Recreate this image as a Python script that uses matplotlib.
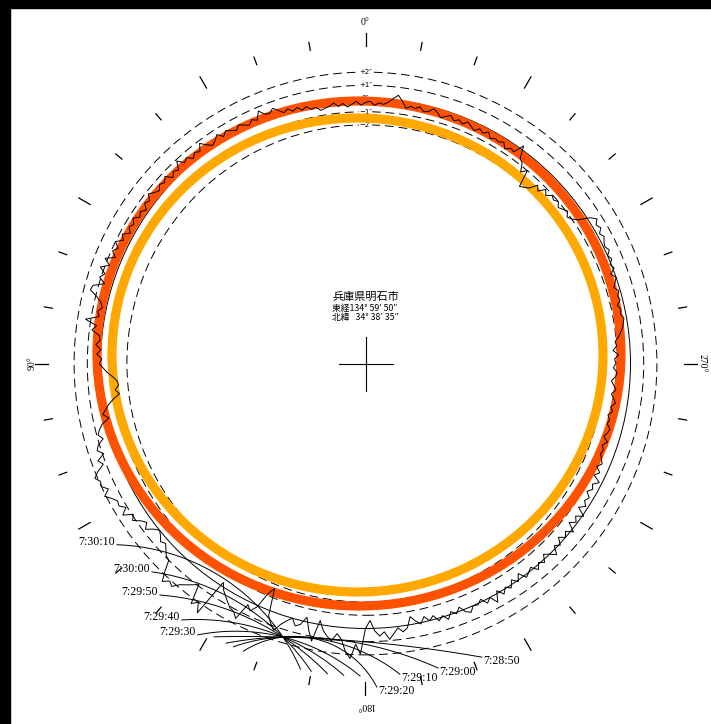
import numpy as np
import matplotlib
matplotlib.use("Agg")
import matplotlib.pyplot as plt
from matplotlib.patches import Ellipse, Circle, Rectangle

plt.rcParams['font.family'] = ['Liberation Serif', 'Noto Sans CJK JP', 'DejaVu Sans']

# ---------------- data ----------------
# lunar limb profile: height above the mean limb (arcsec) for position angles 0..359 deg
profile_pa = np.arange(0, 360, 1)
profile_height = [
    -0.3, -0.5, -0.2, -0.4, -0.6, -0.3, -0.5, -0.2, -0.4, -0.5,
    -0.6, -0.3, -0.4, -0.1, -0.3, 0.0, -0.2, 0.1, -0.1, 0.2,
    0.5, 0.2, 0.3, 0.7, 0.1, 0.3, 0.0, 0.2, 0.4, 0.1,
    0.3, 0.5, 0.2, 0.6, 0.3, 0.1, 0.4, 0.8, 0.3, 0.5,
    0.2, 0.6, 0.4, 0.9, 0.3, 0.5, 0.2, 0.7, 0.4, 0.6,
    0.3, 0.5, 0.8, 0.4, 0.6, 0.2, 0.5, 0.3, 0.7, 0.4,
    0.6, 0.3, 0.8, 0.5, 1.0, 0.6, 0.9, 0.5, 1.2, 0.7,
    1.3, 0.8, 1.1, 0.6, 1.4, 1.5, 0.9, 0.5, 0.3, 0.6,
    0.4, 1.4, 0.5, 0.8, 0.2, 0.1, 0.4, 0.0, 0.3, -0.1,
    0.1, -0.2, -0.5, -0.9, -1.2, -1.3, -1.0, -1.3, -0.8, -0.4,
    -0.1, 0.2, -0.2, 0.4, 0.7, 0.9, 0.6, 1.1, 1.3, 0.9,
    1.5, 1.2, 1.8, 2.2, 1.9, 2.0, 1.6, 2.1, 1.7, 1.4,
    1.5, 1.1, 1.6, 0.9, 1.2, 0.7, 0.4, 0.8, 0.3, 0.0,
    0.2, 0.5, 0.3, 0.6, 0.9, 1.0, 1.8, 2.5, 2.1, 2.3,
    1.8, 1.5, 1.2, 0.9, 2.4, 2.0, 2.7, -0.3, 0.2, 0.5,
    0.8, 1.1, 1.2, 1.6, 0.25, 0.6, 0.1, -1.1, -1.7, 0.4,
    0.9, 1.3, 0.7, 0.3, 0.0, 0.5, 0.3, -0.35, 0.6, 1.35,
    -0.3, 0.4, 0.8, 1.1, 0.5, 0.9, 1.8, 2.3, 1.2, 1.95,
    0.0, -0.6, 0.2, 0.6, 0.3, 0.9, 0.5, 0.1, 0.45, 0.2,
    -0.6, -0.2, 0.1, -0.4, 0.0, -0.3, 0.2, -0.1, 0.3, -0.2,
    0.1, -0.3, 0.2, 0.4, 0.0, 0.1, -0.2, 0.3, 0.0, 0.6,
    -0.2, 0.3, -0.1, 0.2, -0.3, 0.1, -0.4, 0.2, 0.0, -0.2,
    0.3, -0.1, 0.2, -0.3, 0.0, 0.4, -0.2, 0.1, -0.4, 0.0,
    -0.3, 0.2, -0.5, -0.1, -0.4, 0.1, -0.6, -0.2, -0.5, -0.3,
    -0.7, -0.4, -0.6, -0.2, -0.8, -0.5, -0.9, -0.6, -0.8, -1.0,
    -0.9, -1.1, -0.8, -1.2, -1.0, -0.9, -1.2, -1.1, -1.3, -1.0,
    -1.2, -0.9, -1.1, -1.3, -1.0, -1.2, -1.4, -1.1, -1.0, -1.3,
    -1.1, -1.2, -0.9, -1.3, -1.0, -1.1, -0.8, -0.6, -0.4, -0.3,
    -0.2, -0.4, -0.3, -0.5, -0.2, -0.3, -0.1, -0.4, -0.2, 0.0,
    -0.3, 0.1, -0.1, 0.2, 0.0, 0.3, 0.1, 0.2, 0.4, 0.2,
    0.5, 0.3, 0.6, 0.2, -0.6, -1.0, -1.2, -0.9, -1.1, -1.3,
    -1.0, -1.2, -1.05, -1.4, -1.1, -1.6, -1.3, -1.9, -2.1, -2.3,
    -1.0, -1.4, -0.8, -0.6, 0.3, -0.5, -0.4, -0.7, -0.3, -0.5,
    -0.4, -0.6, -0.2, -0.5, -0.3, -0.6, -0.4, -0.2, -0.5, -0.3,
    -0.5, -0.2, -0.4, -0.6, -0.3, -0.1, -0.4, -0.5, -0.2, -0.4,
    -0.3, -0.5, 0.0, 0.4, 0.1, -0.2, -0.4, -0.3, -0.5, -0.2,
]

# reference circles around the mean limb (arcsec)
ring_offsets = [2, 1, 0, -1, -2]
ring_labels = ['+2″', '+1″', '0″', '−1″', '−2″']

# solar limb at the two marked instants: centre offset and semi-axes (chart units)
sun_centres = [(-6.5, 10.0), (-8.0, 8.5)]
sun_semi_axes = [(262.0, 252.5), (245.5, 237.0)]
sun_colours = ['#ff5200', '#ffa800']

# solar limb near the contact point, every 10 s: position angle (deg) and height
# (arcsec) of the labelled end of each limb line, and position angle of its far end
time_labels = ['7:28:50', '7:29:00', '7:29:10', '7:29:20',
               '7:29:30', '7:29:40', '7:29:50', '7:30:00', '7:30:10']
limb_pa_label = [201.6, 193.4, 186.3, 182.0, 148.3, 144.4, 138.4, 134.3, 126.1]
limb_h_label = [3.85, 3.64, 3.60, 4.45, 4.09, 3.82, 3.38, 2.53, 3.23]
limb_pa_far = [151.0, 153.5, 155.0, 157.0, 179.0, 176.0, 173.0, 170.0, 168.0]

# position-angle scale
tick_pa = np.arange(0, 360, 10)
cardinal_pa = [0, 90, 180, 270]
cardinal_text = ['0°', '90°', '180°', '270°']

place_name = '兵庫県明石市'
coord_lines = ['東経134° 59′ 50″', '北緯   34° 38′ 35″']

# ---------------- layout ----------------
W, H = 711, 724
CX, CY = 365.5, 363.5
R0, K = 265.0, 13.2            # mean limb radius and scale per arcsec
P_PA, P_H = 163.2, 1.57        # common point of the limb lines
H_CLIP = 3.6                   # outer edge of the band where limb lines stop
CARD_R = [341, 333, 342, 337]  # radius of the cardinal labels

fig = plt.figure(figsize=(W / 100, H / 100), dpi=100)
ax = fig.add_axes([0, 0, 1, 1])
ax.set_xlim(-CX, W - CX)
ax.set_ylim(CY - H, CY)
ax.axis('off')

fig.patches.append(Rectangle((0, 1 - 8 / H), 1, 8 / H, transform=fig.transFigure,
                             color='black', zorder=0))
fig.patches.append(Rectangle((0, 0), 10 / W, 1, transform=fig.transFigure,
                             color='black', zorder=0))


def polar(pa, r):
    a = np.radians(pa)
    return -r * np.sin(a), r * np.cos(a)


def arc_through(p1, p2, p3, n=80):
    """Points of the circular arc from p1 through p2 to p3."""
    (x1, y1), (x2, y2), (x3, y3) = p1, p2, p3
    d = 2 * (x1 * (y2 - y3) + x2 * (y3 - y1) + x3 * (y1 - y2))
    if abs(d) < 1e-6:
        return np.array([x1, x2, x3]), np.array([y1, y2, y3])
    ux = ((x1**2 + y1**2) * (y2 - y3) + (x2**2 + y2**2) * (y3 - y1)
          + (x3**2 + y3**2) * (y1 - y2)) / d
    uy = ((x1**2 + y1**2) * (x3 - x2) + (x2**2 + y2**2) * (x1 - x3)
          + (x3**2 + y3**2) * (x2 - x1)) / d
    rad = np.hypot(x1 - ux, y1 - uy)
    a1, a2, a3 = (np.arctan2(y - uy, x - ux) for x, y in (p1, p2, p3))
    d13 = (a3 - a1) % (2 * np.pi)
    d12 = (a2 - a1) % (2 * np.pi)
    if d12 < d13:
        t = np.linspace(a1, a1 + d13, n)
    else:
        t = np.linspace(a1, a1 - (2 * np.pi - d13), n)
    return ux + rad * np.cos(t), uy + rad * np.sin(t)


# reference rings
for off, lab in zip(ring_offsets, ring_labels):
    r = R0 + K * off
    if off == 0:
        ax.add_patch(Circle((0, 0), r, fill=False, lw=0.7, ec='black', zorder=2))
    else:
        ax.add_patch(Circle((0, 0), r, fill=False, lw=0.7, ec='black',
                            ls=(0, (9, 5)), zorder=2))
    ax.text(0, r, lab, fontsize=5, ha='center', va='center', zorder=2.5,
            family=['DejaVu Sans'],
            bbox=dict(fc='white', ec='none', pad=0.3))

# solar limbs
for c, (a, b), col in zip(sun_centres, sun_semi_axes, sun_colours):
    ax.add_patch(Ellipse(c, 2 * a, 2 * b, fill=False, lw=6.6, ec=col, zorder=3))

# lunar profile
pa = np.append(profile_pa, 360)
hh = np.append(profile_height, profile_height[0])
px, py = polar(pa, R0 + K * np.array(hh))
ax.plot(px, py, color='black', lw=0.7, zorder=4)

# solar limb lines through the common point
P = polar(P_PA, R0 + K * P_H)
r_clip = R0 + K * H_CLIP
for lab, pa_l, h_l, pa_f in zip(time_labels, limb_pa_label, limb_h_label, limb_pa_far):
    E = polar(pa_l, R0 + K * h_l)
    F = polar(pa_f, r_clip)
    lx, ly = arc_through(E, P, F)
    ax.plot(lx, ly, color='black', lw=0.7, zorder=4)
    if E[0] > P[0]:
        ax.text(E[0] + 1, E[1] - 4, lab, fontsize=8.6, ha='left', va='center', zorder=5)
    else:
        ax.text(E[0] - 2, E[1] + 3, lab, fontsize=8.6, ha='right', va='center', zorder=5)

# position-angle ticks
for t in tick_pa:
    long_tick = (t % 30 == 0)
    r1 = 318
    r2 = 331 if long_tick else 326
    x1, y1 = polar(t, r1)
    x2, y2 = polar(t, r2)
    ax.plot([x1, x2], [y1, y2], color='black', lw=0.9, zorder=2)

for t, lab, rr in zip(cardinal_pa, cardinal_text, CARD_R):
    x, y = polar(t, rr)
    ax.text(x, y, lab, fontsize=7, ha='center', va='center', rotation=t)

# centre cross
ax.plot([-27, 27], [0, 0], color='black', lw=0.8)
ax.plot([0, 0], [-27, 27], color='black', lw=0.8)

# site information
ax.text(0, 67, place_name, fontsize=8, ha='center', va='center',
        family=['Noto Sans CJK JP'])
ax.text(-33, 55, coord_lines[0], fontsize=6.3, ha='left', va='center',
        family=['Noto Sans CJK JP', 'DejaVu Sans'])
ax.text(-33, 46, coord_lines[1], fontsize=6.3, ha='left', va='center',
        family=['Noto Sans CJK JP', 'DejaVu Sans'])

fig.savefig('out.png', dpi=100, facecolor='white')
